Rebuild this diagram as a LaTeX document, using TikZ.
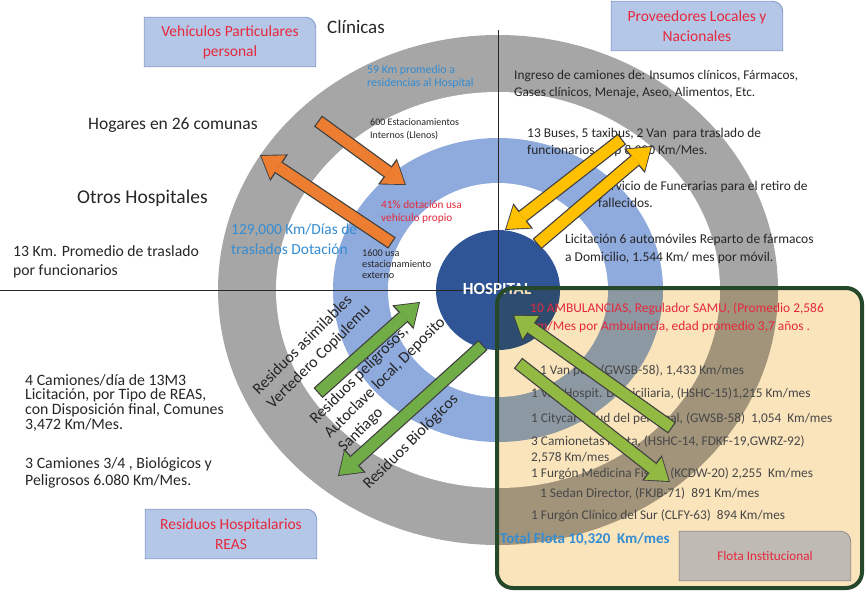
\documentclass[tikz,border=0pt]{standalone}
\usepackage{fontspec}
\setmainfont{Carlito}
\usetikzlibrary{arrows.meta}

\definecolor{gris}{RGB}{166,166,166}
\definecolor{azulclaro}{RGB}{143,170,220}
\definecolor{azul}{RGB}{47,85,151}
\definecolor{celeste}{RGB}{180,199,231}
\definecolor{bordeceleste}{RGB}{125,152,200}
\definecolor{rojo}{RGB}{230,40,60}
\definecolor{azultxt}{RGB}{52,140,210}
\definecolor{trigo}{RGB}{250,228,188}
\definecolor{verdeosc}{RGB}{38,72,42}
\definecolor{naranja}{RGB}{237,125,49}
\definecolor{amarillo}{RGB}{255,192,0}
\definecolor{verde}{RGB}{112,173,71}
\definecolor{oliva}{RGB}{146,185,66}
\definecolor{grisflota}{RGB}{192,186,180}

\newcommand{\tam}[2]{\fontsize{#1}{#2}\selectfont}
\newcommand{\flecha}[3]{%
  \draw[borde] (#2) -- (#3);
  \draw[cuerpo, draw=#1] (#2) -- (#3);}

\pgfdeclarelayer{fondo}
\pgfdeclarelayer{cajas}
\pgfsetlayers{fondo,cajas,main}

\tikzset{
  txt/.style={inner sep=0pt, align=left, anchor=north west, text=black!85},
  lista/.style={inner sep=0pt, align=left, anchor=west, text=black!72, font=\tam{13.3}{16}},
  linea/.style={line width=0.8pt, black!85},
  etiq/.style={minimum width=171pt, minimum height=49pt, inner sep=0pt, align=center, text=rojo, font=\tam{15.5}{20}},
  caja/.style={fill=celeste, draw=bordeceleste, line width=0.8pt},
  cajagris/.style={fill=grisflota, draw=black!45, line width=0.8pt},
  borde/.style={line width=13.5pt, draw=black!75, -{Triangle[length=23pt, width=32pt, line width=0pt]}},
  cuerpo/.style={line width=11pt, shorten >=1.6pt, shorten <=1.2pt, -{Triangle[length=20pt, width=28pt, line width=0pt]}},
  rot/.style={rotate=45, inner sep=0pt, align=left, text=black!85, font=\tam{16}{20}},
}

\begin{document}
\begin{tikzpicture}[x=1pt, y=-1pt]
\useasboundingbox (0,0) rectangle (866,591);

\coordinate (c) at (498,290);

\begin{pgfonlayer}{fondo}
% anillos
\fill[gris] (c) ellipse [x radius=280, y radius=255];
\fill[white] (c) ellipse [x radius=222, y radius=198];
\fill[azulclaro] (c) ellipse [x radius=165, y radius=152];
\fill[white] (c) ellipse [x radius=110, y radius=107];
\fill[azul] (c) ellipse [x radius=62, y radius=60];

\draw[linea] (0,290) -- (c);
\draw[linea] (498,30) -- (c);

\node[font=\bfseries\tam{17}{20}, text=white, inner sep=0pt] (hosp) at (497,289) {HOSPITAL};

\begin{scope}[blend mode=multiply]
\fill[trigo, rounded corners=16pt] (497,288) rectangle (862,588);
\end{scope}
\draw[verdeosc, line width=4pt, rounded corners=16pt] (497,288) rectangle (862,588);
\end{pgfonlayer}

% cuadrante superior izquierdo
\node[txt, anchor=west, font=\tam{19}{22}] (clin) at (327,27) {Clínicas};
\node[txt, anchor=west, font=\tam{17.5}{20}] (hog) at (88,125) {Hogares en 26 comunas};
\node[txt, anchor=west, font=\tam{19.5}{22}] (otros) at (77,198) {Otros Hospitales};
\node[txt, font=\tam{15.7}{19}] (km13) at (13,245) {13 Km. Promedio de traslado\\por funcionarios};
\node[txt, font=\tam{15.4}{20}, text=azultxt] (km129) at (231,224) {129,000 Km/Días de\\traslados Dotación};
\node[txt, font=\tam{11.8}{13}, text=azultxt] (km59) at (367,65) {59 Km promedio a\\residencias al Hospital};
\node[txt, font=\tam{10}{13}] (est600) at (370,118) {600 Estacionamientos\\Internos (Llenos)};
\node[txt, font=\tam{11.3}{13}, text=rojo] (dot41) at (381,200) {41\% dotación usa\\vehículo propio};
\node[txt, font=\tam{10.2}{11}] (est1600) at (362,249) {1600 usa\\estacionamiento\\externo};

% cuadrante superior derecho
\node[txt, font=\tam{13.3}{17}] (ingreso) at (514,70) {Ingreso de camiones de: Insumos clínicos, Fármacos,\\Gases clínicos, Menaje, Aseo, Alimentos, Etc.};
\node[txt, font=\tam{13.4}{17}] (buses) at (527,128) {13 Buses, 5 taxibus, 2 Van\ \ para traslado de\\funcionarios, app 8,900 Km/Mes.};
\node[txt, font=\tam{13.4}{17}] (funer) at (598,181) {Servicio de Funerarias para el retiro de\\fallecidos.};
\node[txt, font=\tam{13.5}{18}] (licit) at (565,234) {Licitación 6 automóviles Reparto de fármacos\\a Domicilio, 1.544 Km/ mes por móvil.};

% cuadrante inferior izquierdo
\node[txt, font=\tam{15.8}{14.8}] (camiones) at (25,374) {4 Camiones/día de 13M3\\Licitación, por Tipo de REAS,\\con Disposición final, Comunes\\3,472 Km/Mes.};
\node[txt, font=\tam{15.8}{17}] (bio) at (25,457) {3 Camiones 3/4 , Biológicos y\\Peligrosos 6.080 Km/Mes.};
\node[rot] (asim) at (312,350) {Residuos asimilables\\Vertedero Copiulemu};
\node[rot] (pelig) at (385,378) {Residuos peligrosos,\\Autoclave local, Deposito\\Santiago};
\node[rot] (biol) at (411,442) {Residuos Biológicos};

% flota
\node[txt, font=\tam{13.4}{18}, text=rojo] (amb) at (530,303) {10 AMBULANCIAS, Regulador SAMU, (Promedio 2,586\\Km/Mes por Ambulancia, edad promedio 3,7 años .};
\node[lista] (f1) at (540,371) {1 Van poli. (GWSB-58), 1,433 Km/mes};
\node[lista] (f2) at (531,394) {1 Van Hospit. Domiciliaria, (HSHC-15)1,215 Km/mes};
\node[lista] (f3) at (531,419) {1 Citycar Salud del personal, (GWSB-58)\ \ 1,054\ \ Km/mes};
\node[lista, anchor=north west] (f4) at (531,436) {3 Camionetas mixta, (HSHC-14, FDKF-19,GWRZ-92)\\2,578 Km/mes};
\node[lista] (f5) at (531,474) {1 Furgón Medicina Física, (KCDW-20) 2,255\ \ Km/mes};
\node[lista] (f6) at (540,494) {1 Sedan Director, (FKJB-71)\ \ 891 Km/mes};
\node[lista] (f7) at (531,516) {1 Furgón Clínico del Sur (CLFY-63)\ \ 894 Km/mes};
\node[txt, anchor=west, font=\bfseries\tam{15}{17}, text=azultxt] (total) at (500,539) {Total Flota 10,320\ \ Km/mes};

% etiquetas
\node[etiq] (veh) at (230,42) {Vehículos Particulares\\personal};
\node[etiq] (prov) at (697,26) {Proveedores Locales y\\Nacionales};
\node[etiq] (reas) at (231,534) {Residuos Hospitalarios\\REAS};
\node[etiq, font=\tam{13.2}{15}] (flota) at (765,556) {Flota Institucional};

\begin{pgfonlayer}{cajas}
\foreach \n in {veh,prov,reas}
  \filldraw[caja] (\n.south west) -- (\n.north west) -- ([xshift=-10pt]\n.north east)
    arc[start angle=270, end angle=360, radius=10] -- (\n.south east) -- cycle;
\filldraw[cajagris] (flota.south west) -- (flota.north west) -- ([xshift=-10pt]flota.north east)
    arc[start angle=270, end angle=360, radius=10] -- (flota.south east) -- cycle;
\end{pgfonlayer}

% flechas
\coordinate (n1) at (318,121);
\coordinate (n2) at (406,185);
\coordinate (n3) at (392,243);
\coordinate (n4) at (260,155);
\coordinate (a1) at (622,139);
\coordinate (a2) at (505,230);
\coordinate (a3) at (537,244);
\coordinate (a4) at (652,146);
\coordinate (g1) at (318,393);
\coordinate (g2) at (420,302);
\coordinate (g3) at (483,345);
\coordinate (g4) at (338,476);
\coordinate (o1) at (672,428);
\coordinate (o2) at (513,315);
\coordinate (o3) at (518,363);
\coordinate (o4) at (670,482);

\foreach \a/\b/\c in {n1/n2/naranja, n3/n4/naranja, a1/a2/amarillo, a3/a4/amarillo,
                      g1/g2/verde, g3/g4/verde, o1/o2/oliva, o3/o4/oliva}
    \flecha{\c}{\a}{\b};

\end{tikzpicture}
\end{document}
